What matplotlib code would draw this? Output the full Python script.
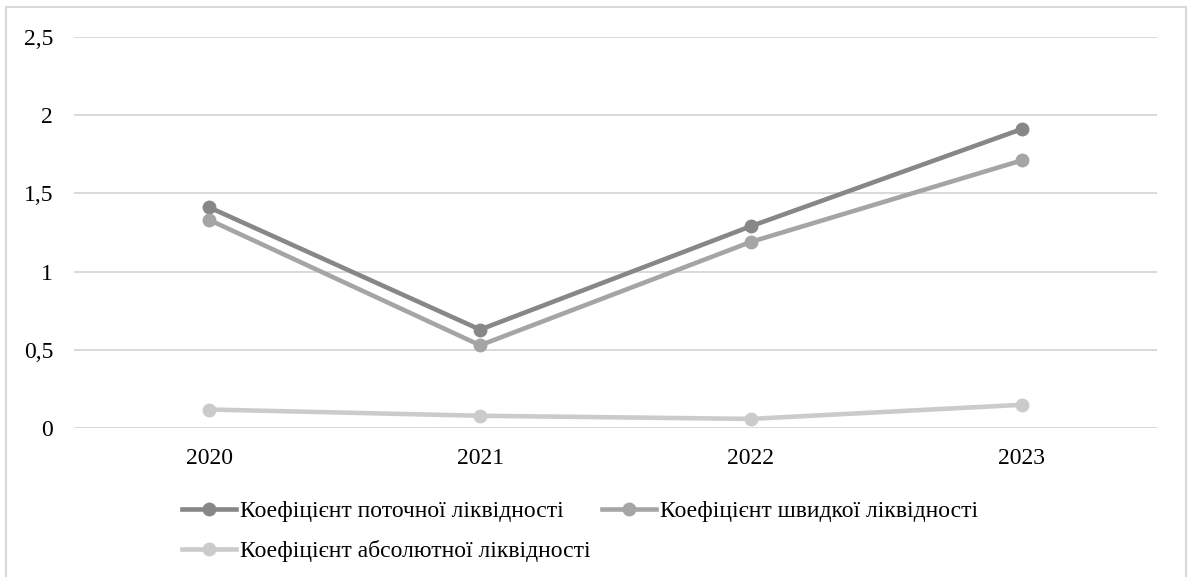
import matplotlib
matplotlib.use("Agg")
import matplotlib.pyplot as plt
from matplotlib.patches import Rectangle

years = ["2020", "2021", "2022", "2023"]
current_ratio = [1.41, 0.63, 1.29, 1.91]
quick_ratio = [1.33, 0.53, 1.19, 1.71]
absolute_ratio = [0.12, 0.08, 0.06, 0.15]
series_names = ["Коефіцієнт поточної ліквідності",
                "Коефіцієнт швидкої ліквідності",
                "Коефіцієнт абсолютної ліквідності"]
y_ticks = [0, 0.5, 1, 1.5, 2, 2.5]
y_tick_labels = ["0", "0,5", "1", "1,5", "2", "2,5"]

plt.rcParams['font.family'] = ['Liberation Serif', 'DejaVu Serif']

W, H = 1190, 577
fig = plt.figure(figsize=(W / 100, H / 100), dpi=100)

# outer border
fig.patches.append(Rectangle((6 / W, -0.05), (1186 - 6) / W, 1.05 - 7 / H,
                             transform=fig.transFigure, fill=False,
                             edgecolor='#d9d9d9', linewidth=1.5))

ax = fig.add_axes([74 / W, 1 - 428.3 / H, (1157 - 74) / W, (428.3 - 36.7) / H])
x = list(range(len(years)))
colors = ['#878787', '#a5a5a5', '#cbcbcb']
handles = []
for vals, c, name in zip([current_ratio, quick_ratio, absolute_ratio], colors, series_names):
    h, = ax.plot(x, vals, color=c, linewidth=3.3, marker='o', markersize=10,
                 markeredgewidth=0, label=name, zorder=3)
    handles.append(h)

ax.set_xlim(-0.5, len(years) - 0.5)
ax.set_ylim(0, 2.5)
ax.set_yticks(y_ticks)
ax.set_yticklabels(y_tick_labels)
ax.set_xticks(x)
ax.set_xticklabels(years)
ax.tick_params(axis='both', length=0, labelsize=17, colors='#000000')
ax.tick_params(axis='y', pad=15)
ax.tick_params(axis='x', pad=14)
ax.grid(axis='y', color='#d9d9d9', linewidth=1.4)
ax.set_axisbelow(True)
for s in ax.spines.values():
    s.set_visible(False)

leg_kw = dict(frameon=False, fontsize=17, handlelength=2.3, handletextpad=0.17,
              borderpad=0, borderaxespad=0, numpoints=1, loc='center left')
leg1 = fig.legend(handles[:2], series_names[:2], ncol=2, columnspacing=1.6,
                  bbox_to_anchor=(182 / W, 1 - 511 / H), **leg_kw)
leg2 = fig.legend(handles[2:], series_names[2:], ncol=1,
                  bbox_to_anchor=(182 / W, 1 - 551 / H), **leg_kw)

fig.savefig("out.png", dpi=100)
